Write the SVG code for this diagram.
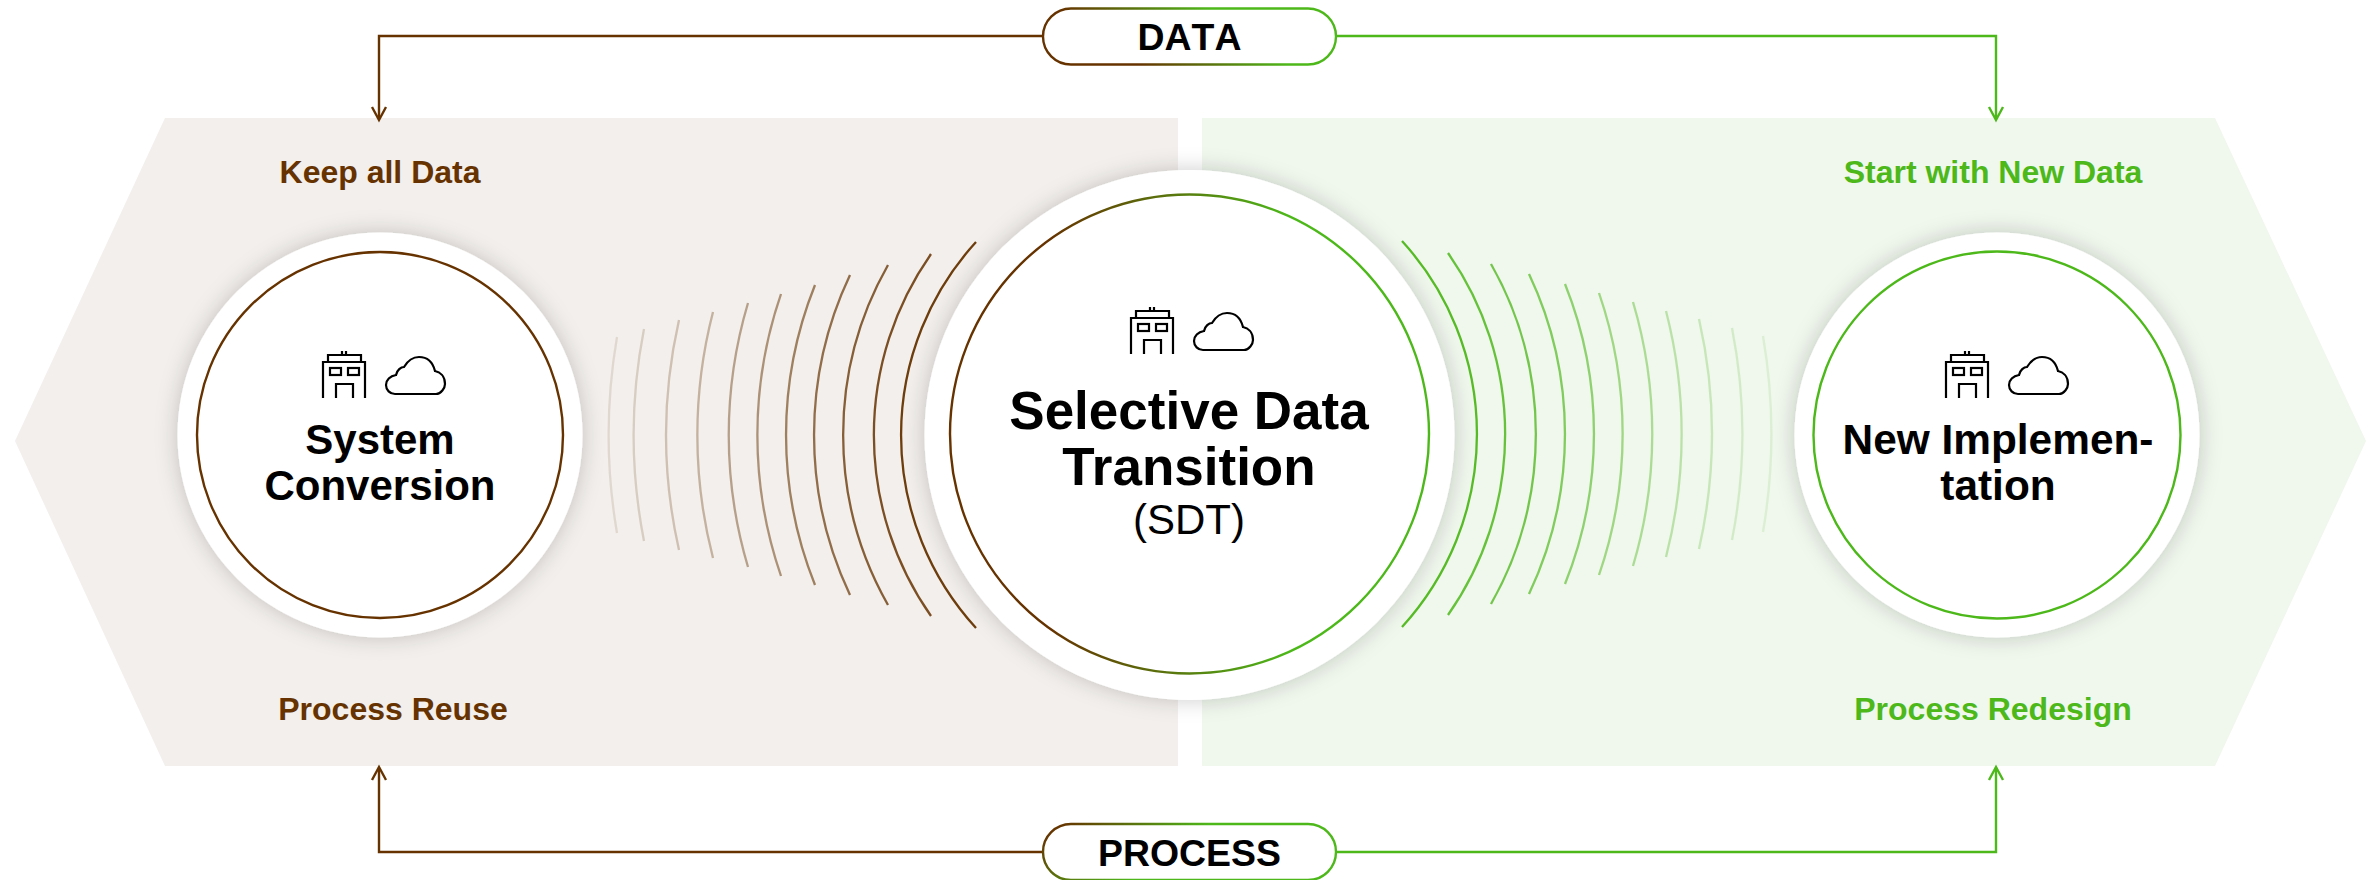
<svg xmlns="http://www.w3.org/2000/svg" width="2368" height="880" viewBox="0 0 2368 880">
<style>
.t{font-family:"Liberation Sans",Arial,sans-serif;text-anchor:middle;fill:#000}
.b{font-weight:700}
.h{font-size:42px}
.pl{font-size:37.4px;font-weight:700;font-kerning:none}
.lab{font-family:"Liberation Sans",Arial,sans-serif;font-weight:700;font-size:32px;text-anchor:middle}
.br{fill:#663300}.gr{fill:#4db81a}
.ln{fill:none;stroke-width:2.4}
.arc{fill:none;stroke-width:2.3}
.ic{fill:none;stroke:#000;stroke-width:2.2}
</style>
<defs>
<filter id="sh" x="-20%" y="-20%" width="140%" height="140%"><feDropShadow dx="0" dy="0" stdDeviation="11" flood-color="#000" flood-opacity="0.2"/></filter>
<linearGradient id="gc" gradientUnits="userSpaceOnUse" x1="1050" y1="0" x2="1290" y2="0"><stop offset="0" stop-color="#663300"/><stop offset="1" stop-color="#4db81a"/></linearGradient>
<linearGradient id="gd" gradientUnits="userSpaceOnUse" x1="1060" y1="8" x2="1111" y2="-63"><stop offset="0" stop-color="#663300"/><stop offset="1" stop-color="#4db81a"/></linearGradient>
<linearGradient id="gp" gradientUnits="userSpaceOnUse" x1="1060" y1="824" x2="1111" y2="895"><stop offset="0" stop-color="#663300"/><stop offset="1" stop-color="#4db81a"/></linearGradient>
<g id="icons" class="ic">
<path d="M323 398V362H365V398M328 361V355H361V361M342 355V351M346 355V351M336 398V384H353V398"/>
<rect x="330" y="368" width="11" height="7"/><rect x="348" y="368" width="11" height="7"/>
<path d="M395 394H436C441 394 445 388 445 384C445 376 440 372 435 371C433 363 428 357 419 357C411 357 407 362 404 367C401 367 397 370 396 375C390 376 386 380 386 385C386 390 390 394 395 394Z"/>
</g>
</defs>
<polygon points="15,441 165,118 1178,118 1178,766 165,766" fill="#f2efec"/>
<polygon points="1202,118 2215,118 2366,441 2215,766 1202,766" fill="#f0f7ed"/>
<g id="connectors">
<path class="ln" d="M1043 36H379V118" stroke="#663300"/>
<path class="ln" d="M372 107L379 120L386 107" stroke="#663300"/>
<path class="ln" d="M1336 36H1996V118" stroke="#4db81a"/>
<path class="ln" d="M1989 107L1996 120L2003 107" stroke="#4db81a"/>
<path class="ln" d="M1043 852H379V769" stroke="#663300"/>
<path class="ln" d="M372 780L379 767L386 780" stroke="#663300"/>
<path class="ln" d="M1336 852H1996V769" stroke="#4db81a"/>
<path class="ln" d="M1989 780L1996 767L2003 780" stroke="#4db81a"/>
</g>
<g id="arcs-left" class="arc" stroke="#663300">
<path opacity="0.95" d="M976 242A286 286 0 0 0 976 628"/>
<path opacity="0.85" d="M931 254A315.3 315.3 0 0 0 931 616"/>
<path opacity="0.77" d="M888 265A344.6 344.6 0 0 0 888 605"/>
<path opacity="0.69" d="M850 275A374 374 0 0 0 850 595"/>
<path opacity="0.6" d="M815 285A403 403 0 0 0 815 585"/>
<path opacity="0.5" d="M781 294A432.6 432.6 0 0 0 781 576"/>
<path opacity="0.42" d="M748 303A462 462 0 0 0 748 567"/>
<path opacity="0.33" d="M713 312A491 491 0 0 0 713 558"/>
<path opacity="0.25" d="M679 320A521 521 0 0 0 679 550"/>
<path opacity="0.18" d="M644 329A550 550 0 0 0 644 541"/>
<path opacity="0.12" d="M617 337A580 580 0 0 0 617 533"/>
</g>
<g id="arcs-right" class="arc" stroke="#4db81a">
<path opacity="0.95" d="M1402 241A286 286 0 0 1 1402 627"/>
<path opacity="0.85" d="M1448 253A315.3 315.3 0 0 1 1448 615"/>
<path opacity="0.77" d="M1491 264A344.6 344.6 0 0 1 1491 604"/>
<path opacity="0.69" d="M1529 274A374 374 0 0 1 1529 594"/>
<path opacity="0.6" d="M1565 284A403 403 0 0 1 1565 584"/>
<path opacity="0.5" d="M1599 293A432.6 432.6 0 0 1 1599 575"/>
<path opacity="0.42" d="M1633 302A462 462 0 0 1 1633 566"/>
<path opacity="0.33" d="M1666 311A491 491 0 0 1 1666 557"/>
<path opacity="0.25" d="M1699 319A521 521 0 0 1 1699 549"/>
<path opacity="0.18" d="M1732 328A550 550 0 0 1 1732 540"/>
<path opacity="0.12" d="M1763 336A580 580 0 0 1 1763 532"/>
</g>
<g id="data-pill">
<rect x="1043" y="8.5" width="293" height="56" rx="28" fill="#fff" stroke="url(#gd)" stroke-width="2.4"/>
<text class="t pl" x="1189.5" y="50">DATA</text>
</g>
<g id="process-pill">
<rect x="1043" y="824" width="293" height="56" rx="28" fill="#fff" stroke="url(#gp)" stroke-width="2.4"/>
<text class="t pl" x="1189.5" y="865.5">PROCESS</text>
</g>
<g id="system-conversion">
<circle cx="380" cy="435" r="202.5" fill="#fff" filter="url(#sh)"/>
<circle cx="380" cy="435" r="183" fill="none" stroke="#663300" stroke-width="2.4"/>
<use href="#icons"/>
<text class="t b h" x="380" y="453.5">System</text>
<text class="t b h" x="380" y="500">Conversion</text>
</g>
<g id="sdt">
<circle cx="1189.5" cy="435" r="265" fill="#fff" filter="url(#sh)"/>
<circle cx="1189.5" cy="434" r="239.5" fill="none" stroke="url(#gc)" stroke-width="2.4"/>
<use href="#icons" x="808" y="-44"/>
<text class="t b" x="1189" y="429" font-size="53">Selective Data</text>
<text class="t b" x="1189" y="485" font-size="53">Transition</text>
<text class="t" x="1189" y="534" font-size="42">(SDT)</text>
</g>
<g id="new-implementation">
<circle cx="1997" cy="435" r="202.5" fill="#fff" filter="url(#sh)"/>
<circle cx="1997" cy="435" r="183.5" fill="none" stroke="#4db81a" stroke-width="2.4"/>
<use href="#icons" x="1623" y="0"/>
<text class="t b" x="1998" y="453.5" font-size="42.4">New Implemen-</text>
<text class="t b" x="1998" y="500" font-size="42.4">tation</text>
</g>
<g id="labels">
<text class="lab br" x="380" y="183">Keep all Data</text>
<text class="lab br" x="393" y="720">Process Reuse</text>
<text class="lab gr" x="1993" y="183">Start with New Data</text>
<text class="lab gr" x="1993" y="720">Process Redesign</text>
</g>
</svg>
